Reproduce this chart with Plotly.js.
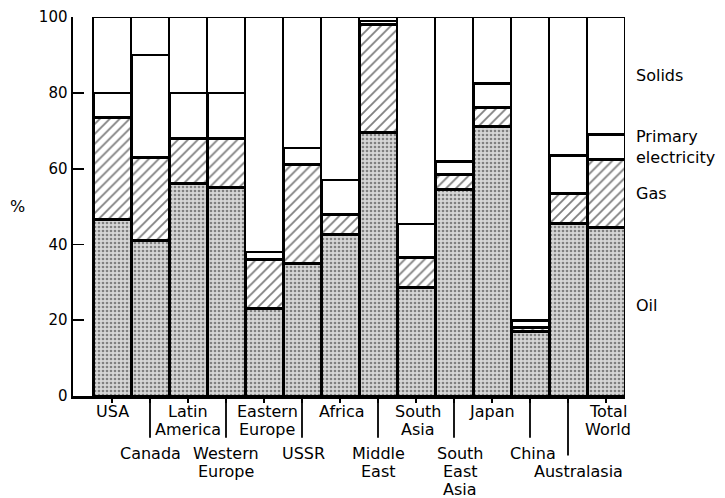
<!DOCTYPE html>
<html>
<head>
<meta charset="utf-8">
<script src="https://cdn.plot.ly/plotly-3.0.1.min.js"></script>
<style>
  html, body { margin: 0; padding: 0; background: #fff; }
  #chart { width: 725px; height: 498px; }
</style>
</head>
<body>
<div id="chart"></div>
<script>
// Share of primary energy consumption by fuel, per region (%)
const regions = ["USA", "Canada", "Latin America", "Western Europe", "Eastern Europe", "USSR",
  "Africa", "Middle East", "South Asia", "South East Asia", "Japan", "China", "Australasia", "Total World"];
const oil =                [46.5, 41, 56, 55, 23, 35, 42.5, 69.5, 28.5, 54.5, 71, 17, 45.5, 44.5];
const gas =                [27, 22, 12, 13, 13, 26, 5.5, 28.5, 8, 4, 5, 1, 8, 18];
const primaryElectricity = [6.5, 27, 12, 12, 2, 4.5, 9, 1, 9, 3.5, 6.5, 2, 10, 6.5];
const solids =             [20, 10, 20, 20, 62, 34.5, 43, 1, 54.5, 38, 17.5, 80, 36.5, 31];

// Region labels below the axis, staggered over rows, one entry per text line
const labelRow = [1, 2, 1, 2, 1, 2, 1, 2, 1, 2, 1, 2, 3, 1];
const labelLines = [["USA"], ["Canada"], ["Latin", "America"], ["Western", "Europe"],
  ["Eastern", "Europe"], ["USSR"], ["Africa"], ["Middle", "East"], ["South", "Asia"],
  ["South", "East", "Asia"], ["Japan"], ["China"], ["Australasia"], ["Total", "World"]];
const labelShift = [0, 0, 0, 0, 3, 1, 2, 0, 2, 6, 0, 3, 10, 2];

const yTicks = [0, 20, 40, 60, 80, 100];
const fuelNames = ["Oil", "Gas", "Primary<br>electricity", "Solids"];

const idx = regions.map((_, i) => i);
const FONT = "DejaVu Sans, sans-serif";

function barTrace(name, values, pattern, lw) {
  return {
    type: "bar", name: name, x: idx, y: values,
    width: 1,
    marker: { color: "#ffffff", line: { color: "#000", width: lw }, pattern: pattern },
    hoverinfo: "skip"
  };
}

const traces = [
  barTrace("Oil", oil, { shape: ".", fgcolor: "#2a2a2a", bgcolor: "#d6d6d6", size: 4, solidity: 0.35, fillmode: "overlay" }, 3),
  barTrace("Gas", gas, { shape: "/", fgcolor: "#000", bgcolor: "#fff", size: 7, solidity: 0.26, fillmode: "overlay" }, 3),
  barTrace("Primary electricity", primaryElectricity, { shape: "" }, 3),
  barTrace("Solids", solids, { shape: "" }, 2)
];

// Region labels under the axis
const annotations = [];
const rowTop = [0, -15.5, -57, -75];
const lineStep = 18;
regions.forEach((r, i) => {
  labelLines[i].forEach((line, k) => {
    annotations.push({
      xref: "x", yref: "paper", x: i, y: 0, xanchor: "center", yanchor: "middle",
      xshift: labelShift[i], yshift: rowTop[labelRow[i]] - k * lineStep,
      text: line, showarrow: false, font: { family: FONT, size: 16, color: "#000" }
    });
  });
});

// Fuel names beside the last bar, centred on its segments
const last = regions.length - 1;
const segVals = [oil[last], gas[last], primaryElectricity[last], solids[last]];
let base = 0;
const nameY = [];
segVals.forEach(v => { nameY.push(base + v / 2); base += v; });
nameY[0] += 1.5;
fuelNames.forEach((n, k) => {
  annotations.push({
    xref: "paper", yref: "y", x: 1, y: nameY[k], xanchor: "left", yanchor: "middle",
    xshift: 9, text: n, showarrow: false, align: "left",
    font: { family: FONT, size: 16, color: "#000" }
  });
});

// Unit label for the value axis
annotations.push({
  xref: "paper", yref: "y", x: 0, y: 50, xanchor: "center", yanchor: "middle",
  xshift: -56, text: "%", showarrow: false, font: { family: FONT, size: 16, color: "#000" }
});

// Separator strokes between the staggered label rows
const shapes = [];
labelRow.forEach((row, i) => {
  if (row === 1) return;
  shapes.push({
    type: "line", xref: "x", yref: "paper", x0: i, x1: i,
    y0: 0, y1: row === 3 ? -0.157 : -0.11,
    line: { color: "#000", width: 1.8 }
  });
});

const layout = {
  width: 725, height: 498,
  margin: { l: 73, r: 100, t: 17, b: 102 },
  paper_bgcolor: "#fff", plot_bgcolor: "#fff",
  barmode: "stack", bargap: 0, showlegend: false,
  font: { family: FONT, size: 14, color: "#000" },
  xaxis: {
    range: [-1.0263, last + 0.5], tickvals: idx, showticklabels: false,
    ticks: "outside", ticklen: 4, tickwidth: 1.5, tickcolor: "#000",
    showline: true, linecolor: "#000", linewidth: 3, showgrid: false, zeroline: false,
    fixedrange: true
  },
  yaxis: {
    range: [0, 100], tickvals: yTicks, ticktext: yTicks.map(String),
    ticks: "inside", ticklen: 11, tickwidth: 1.8, tickcolor: "#000",
    showline: true, linecolor: "#000", linewidth: 2.5, showgrid: false, zeroline: false,
    tickfont: { family: FONT, size: 15, color: "#000" }, fixedrange: true
  },
  annotations: annotations,
  shapes: shapes
};

Plotly.newPlot("chart", traces, layout, { staticPlot: true, displayModeBar: false });
</script>
</body>
</html>
